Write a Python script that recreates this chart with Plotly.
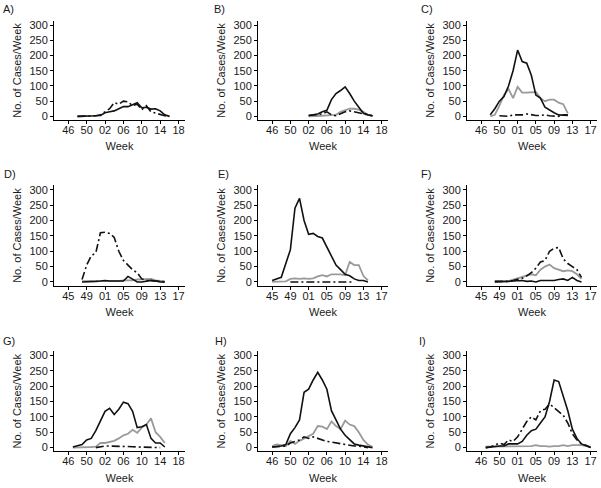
import plotly.graph_objects as go

# ---- data (x = weeks since first tick week; tick labels per panel) ----
panel_labels = ["A)", "B)", "C)", "D)", "E)", "F)", "G)", "H)", "I)"]

ticks_A = ["46", "50", "02", "06", "10", "14", "18"]
ticks_C = ["46", "50", "01", "05", "09", "13", "17"]
ticks_D = ["45", "49", "01", "05", "09", "13", "17"]
tick_labels = [ticks_A, ticks_A, ticks_C, ticks_D, ticks_D, ticks_D, ticks_A, ticks_A, ticks_C]
tick_positions = [0, 4, 8, 12, 16, 20, 24]

start_week = [2, 8, 2, 3, 0, 3, 1, 0, 1]

solid_A = [0, 0, 0, 0, 2, 3, 12, 15, 18, 25, 32, 32, 38, 45, 28, 30, 24, 25, 18, 5, 0]
gray_A = None
dash_A = [0, 0, 0, 0, 2, 5, 15, 25, 45, 40, 50, 48, 35, 40, 22, 35, 15, 10, 5, 2, 0]

solid_B = [3, 5, 8, 15, 20, 55, 75, 85, 97, 75, 50, 30, 10, 5, 2]
gray_B = [0, 0, 2, 2, 3, 3, 5, 15, 20, 25, 25, 22, 15, 5, 2]
dash_B = [3, 4, 5, 8, 15, 5, 2, 8, 15, 18, 15, 12, 10, 5, 2]

solid_C = [5, 25, 50, 65, 100, 150, 218, 180, 175, 135, 70, 60, 30, 20, 12, 5, 5, 3]
gray_C = [0, 5, 35, 70, 90, 60, 97, 78, 78, 80, 80, 60, 50, 55, 55, 45, 40, 10]
dash_C = [None, None, 2, 0, 0, 5, 5, 5, 8, 5, 3, 3, 5, 2, 0, 0, 5, 5]

solid_D = [0, 0, 0, 2, 3, 5, 3, 3, 3, 3, 18, 10, 0, 0, 3, 5, 3, 0, 0]
gray_D = [3, 3, 3, 2, 3, 3, 3, 3, 3, 5, 5, 5, 8, 8, 8, 10, 5, 3, 2]
dash_D = [8, 55, 85, 95, 160, 162, 158, 145, 100, 70, 55, 40, 30, 10, 5, 5, 3, 2, 0]

solid_E = [5, 10, 15, 60, 105, 240, 272, 200, 155, 158, 148, 143, 115, 85, 55, 40, 25, 20, 10, 5, 5, 0]
gray_E = [0, 0, 0, 2, 10, 12, 10, 12, 10, 12, 18, 22, 18, 25, 25, 25, 22, 65, 55, 55, 20, 5]
dash_E = [None, None, None, None, 0, 0, 0, 0, 0, 0, 0, 0, 0, 0, 0, 0, 0, 0, 0, None, None, None]

solid_F = [0, 0, 0, 2, 3, 5, 5, 2, 3, 0, 5, 5, 5, 5, 8, 10, 5, 15, 5, 0]
gray_F = [3, 3, 2, 3, 8, 12, 15, 20, 25, 22, 40, 50, 57, 45, 40, 35, 38, 35, 25, 10]
dash_F = [2, 2, 0, 2, 5, 8, 12, 20, 30, 45, 65, 70, 100, 110, 112, 75, 60, 50, 40, 15]

solid_G = [2, 5, 10, 25, 30, 55, 85, 118, 128, 108, 125, 148, 143, 118, 65, 68, 75, 30, 15, 15, 2]
gray_G = [0, 0, 0, 0, 2, 3, 15, 15, 18, 22, 30, 40, 45, 58, 48, 65, 75, 95, 50, 35, 15]
dash_G = [None, None, None, None, None, 0, 3, 5, 5, 5, 4, 3, 3, 3, 2, 2, 0, 0, 2, 0, None]

solid_H = [2, 3, 5, 10, 45, 65, 90, 180, 190, 220, 245, 220, 190, 120, 90, 60, 40, 25, 12, 8, 5, 3, 0]
gray_H = [5, 10, 8, 5, 22, 12, 22, 30, 38, 45, 70, 68, 60, 85, 70, 60, 88, 75, 70, 50, 25, 10, 2]
dash_H = [2, 3, 5, 5, 15, 20, 25, 35, 30, 35, 30, 25, 20, 18, 15, 12, 10, 8, 5, 5, 2, 0, None]

solid_I = [0, 2, 3, 5, 5, 12, 12, 12, 20, 40, 55, 60, 80, 100, 150, 220, 215, 170, 120, 60, 30, 12, 5, 0]
gray_I = [3, 3, 5, 3, 5, 5, 3, 5, 5, 3, 5, 8, 5, 5, 3, 5, 5, 8, 5, 8, 8, 8, 5, 3]
dash_I = [0, 2, 8, 15, 10, 25, 20, 35, 60, 85, 100, 90, 120, 125, 142, 130, 120, 105, 80, 45, 25, 12, 8, 0]

solid_series = [solid_A, solid_B, solid_C, solid_D, solid_E, solid_F, solid_G, solid_H, solid_I]
gray_series = [gray_A, gray_B, gray_C, gray_D, gray_E, gray_F, gray_G, gray_H, gray_I]
dash_series = [dash_A, dash_B, dash_C, dash_D, dash_E, dash_F, dash_G, dash_H, dash_I]

y_ticks = [0, 50, 100, 150, 200, 250, 300]

# ---- layout (pixel geometry of the 601x488 canvas) ----
W, H = 601, 488
col_px = [(54, 185), (258, 388), (467, 597)]
row_px = [(19, 119), (185, 286), (352, 453)]
label_px = [(1, 7), (212, 7), (419, 7),
            (2, 173), (216, 173), (419, 173),
            (1, 342), (213, 342), (417, 342)]

FONT = "Liberation Sans, Arial, Helvetica, sans-serif"
fig = go.Figure()
layout = dict(
    width=W, height=H,
    margin=dict(l=0, r=0, t=0, b=0),
    paper_bgcolor="white", plot_bgcolor="white",
    showlegend=False,
    font=dict(family=FONT, size=11, color="#1a1a1a"),
    annotations=[],
)

for i in range(9):
    r, c = divmod(i, 3)
    n = i + 1
    xa = "x" if n == 1 else f"x{n}"
    ya = "y" if n == 1 else f"y{n}"
    xs0 = start_week[i]
    L = len(solid_series[i])
    xs = [xs0 + k for k in range(L)]
    if gray_series[i] is not None:
        fig.add_trace(go.Scatter(x=xs, y=gray_series[i], mode="lines", xaxis=xa, yaxis=ya,
                                 line=dict(color="#9a9a9a", width=1.8), hoverinfo="skip"))
    fig.add_trace(go.Scatter(x=xs, y=dash_series[i], mode="lines", xaxis=xa, yaxis=ya,
                             line=dict(color="#111111", width=1.6, dash="8px,3px,2px,3px"),
                             hoverinfo="skip"))
    fig.add_trace(go.Scatter(x=xs, y=solid_series[i], mode="lines", xaxis=xa, yaxis=ya,
                             line=dict(color="#111111", width=1.6), hoverinfo="skip"))

    x0, x1 = col_px[c]
    y0, y1 = row_px[r]
    common = dict(showline=True, linecolor="black", linewidth=1, ticks="outside",
                  ticklen=3, tickcolor="black", showgrid=False, zeroline=False,
                  tickfont=dict(family=FONT, size=11, color="#1a1a1a"), fixedrange=True)
    layout["xaxis" if n == 1 else f"xaxis{n}"] = dict(
        domain=[x0 / W, x1 / W], anchor=ya, range=[-3.1, 25.4],
        tickmode="array", tickvals=tick_positions, ticktext=tick_labels[i],
        ticklabeloverflow="allow", ticklabelstandoff=-3,
        title=dict(text="Week", font=dict(family=FONT, size=11, color="#1a1a1a"), standoff=7),
        **common)
    layout["yaxis" if n == 1 else f"yaxis{n}"] = dict(
        domain=[1 - y1 / H, 1 - y0 / H], anchor=xa, range=[-12, 314],
        tickmode="array", tickvals=y_ticks,
        title=dict(text="No. of Cases/Week", font=dict(family=FONT, size=11, color="#1a1a1a"), standoff=5),
        **common)
    lx, ly = label_px[i]
    layout["annotations"].append(dict(
        text=panel_labels[i], xref="paper", yref="paper", x=lx / W, y=1 - ly / H,
        xanchor="left", yanchor="middle", showarrow=False,
        font=dict(family=FONT, size=11, color="#1a1a1a")))

fig.update_layout(**layout)
fig.write_html("out.html", config={"displayModeBar": False},
               post_script="document.body.style.margin='0';document.body.style.overflow='hidden';")
